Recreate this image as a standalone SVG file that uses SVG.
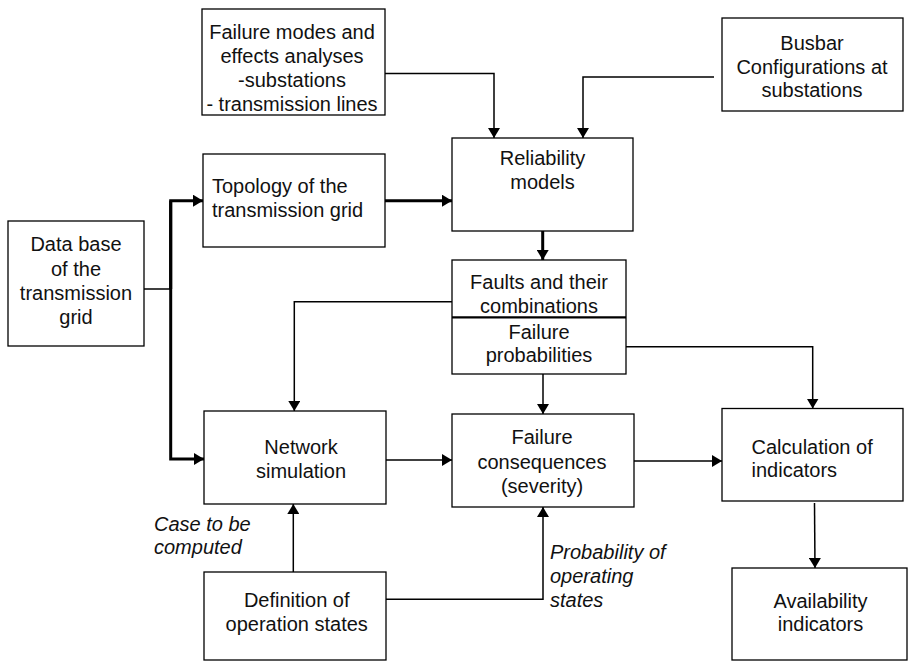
<svg xmlns="http://www.w3.org/2000/svg" width="909" height="661" viewBox="0 0 909 661">
<style>
  .box { fill: #fff; stroke: #000; stroke-width: 1.3; }
  .t { font-family: "Liberation Sans", Arial, sans-serif; font-size: 20px; fill: #111; }
  .c { text-anchor: middle; }
  .i { font-style: italic; }
  .ln { fill: none; stroke: #000; stroke-width: 1.5; }
  .thick { fill: none; stroke: #000; stroke-width: 3; }
  .arr { marker-end: url(#ah); }
</style>
<defs>
  <marker id="ah" viewBox="0 0 10 12" markerWidth="10" markerHeight="12" refX="10" refY="6" orient="auto" markerUnits="userSpaceOnUse">
    <path d="M0,0 L10,6 L0,12 z" fill="#000"/>
  </marker>
</defs>
<rect width="909" height="661" fill="#fff"/>

<g id="connectors">
  <path class="ln arr" d="M385,73.5 H494 V138"/>
  <path class="ln arr" d="M714,77 H583 V138"/>
  <path class="thick arr" d="M385,200.7 H452"/>
  <path class="ln" d="M144,289 H172"/>
  <path class="thick arr" d="M170.7,289 V200.7 H203"/>
  <path class="thick arr" d="M170.7,200.7 V459 H204"/>
  <path class="thick arr" d="M542.7,231 V260"/>
  <path class="ln arr" d="M452,301.7 H294.3 V411"/>
  <path class="ln arr" d="M543,374 V414"/>
  <path class="ln arr" d="M626,346.7 H812.7 V408.5"/>
  <path class="ln arr" d="M386,460 H452"/>
  <path class="ln arr" d="M634,461 H722"/>
  <path class="ln arr" d="M814.5,503 L815,568"/>
  <path class="ln arr" d="M293.3,572 V504"/>
  <path class="ln arr" d="M386,599.3 H543 V507"/>
</g>

<g id="fmea">
  <rect class="box" x="202" y="9" width="183" height="106"/>
  <text class="t c" x="292" y="39">Failure modes and</text>
  <text class="t c" x="292" y="63">effects analyses</text>
  <text class="t c" x="292" y="87">-substations</text>
  <text class="t c" x="292" y="111">- transmission lines</text>
</g>

<g id="busbar">
  <rect class="box" x="722" y="18" width="181" height="93"/>
  <text class="t c" x="812" y="50">Busbar</text>
  <text class="t c" x="812" y="74">Configurations at</text>
  <text class="t c" x="812" y="97">substations</text>
</g>

<g id="reliability">
  <rect class="box" x="452" y="138" width="181" height="93"/>
  <text class="t c" x="542.5" y="165">Reliability</text>
  <text class="t c" x="542.5" y="189">models</text>
</g>

<g id="topology">
  <rect class="box" x="203" y="154" width="182" height="93"/>
  <text class="t" x="212" y="193">Topology of the</text>
  <text class="t" x="212" y="217">transmission grid</text>
</g>

<g id="database">
  <rect class="box" x="8" y="221" width="136" height="125"/>
  <text class="t c" x="76" y="251">Data base</text>
  <text class="t c" x="76" y="275.5">of the</text>
  <text class="t c" x="76" y="300">transmission</text>
  <text class="t c" x="76" y="324">grid</text>
</g>

<g id="faults">
  <rect class="box" x="452" y="260" width="174" height="114"/>
  <line x1="452" y1="317.3" x2="626" y2="317.3" stroke="#000" stroke-width="2.2"/>
  <text class="t c" x="539" y="289">Faults and their</text>
  <text class="t c" x="539" y="312.5">combinations</text>
  <text class="t c" x="539" y="338.5">Failure</text>
  <text class="t c" x="539" y="362">probabilities</text>
</g>

<g id="network">
  <rect class="box" x="204" y="411" width="182" height="93"/>
  <text class="t c" x="301" y="454.3">Network</text>
  <text class="t c" x="301" y="477.7">simulation</text>
</g>

<g id="consequences">
  <rect class="box" x="452" y="414" width="182" height="93"/>
  <text class="t c" x="542" y="444.3">Failure</text>
  <text class="t c" x="542" y="469">consequences</text>
  <text class="t c" x="542" y="493.3">(severity)</text>
</g>

<g id="calculation">
  <rect class="box" x="722" y="408.5" width="181" height="92.5"/>
  <text class="t" x="751.5" y="454">Calculation of</text>
  <text class="t" x="751.5" y="477.3">indicators</text>
</g>

<g id="definition">
  <rect class="box" x="204" y="572" width="182" height="88"/>
  <text class="t c" x="296.7" y="607.3">Definition of</text>
  <text class="t c" x="296.7" y="630.7">operation states</text>
</g>

<g id="availability">
  <rect class="box" x="732" y="568" width="175" height="92"/>
  <text class="t c" x="820.5" y="607.7">Availability</text>
  <text class="t c" x="820.5" y="631">indicators</text>
</g>

<g id="labels">
  <text class="t i" x="154" y="531">Case to be</text>
  <text class="t i" x="154" y="554.3">computed</text>
  <text class="t i" x="550" y="559.3">Probability of</text>
  <text class="t i" x="550" y="582.7">operating</text>
  <text class="t i" x="550" y="606.7">states</text>
</g>
</svg>
